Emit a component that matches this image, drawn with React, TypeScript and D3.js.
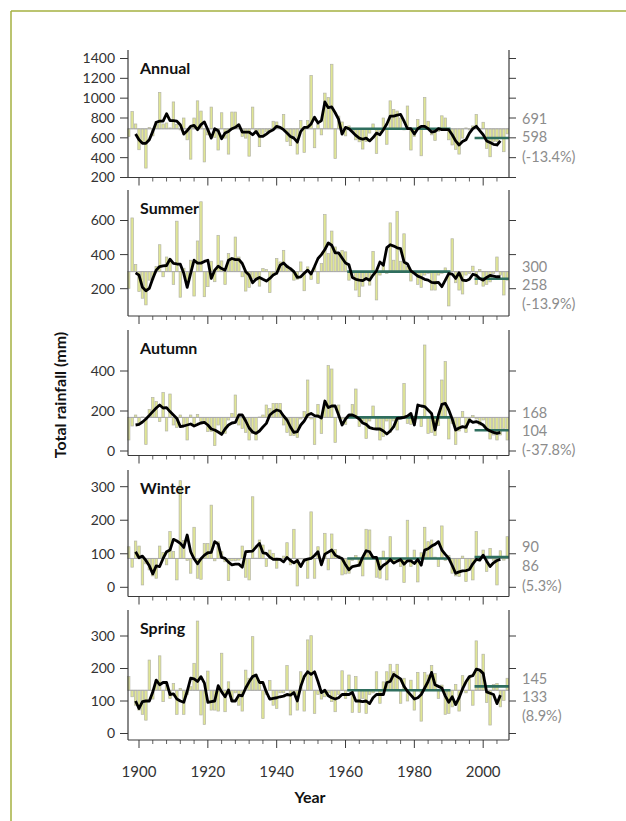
import React from "react";
import * as d3 from "d3";

// ---------- DATA ----------
const BAR_START_YEAR = 1897;
const LINE_START_YEAR = 1899;

const panelNames = ["Annual", "Summer", "Autumn", "Winter", "Spring"];

const annualBars = [615, 865, 740, 480, 560, 295, 705, 620, 765, 1058, 740, 750, 700, 962, 735, 680, 800, 580, 385, 800, 973, 870, 357, 630, 910, 603, 477, 853, 597, 436, 860, 860, 700, 614, 597, 415, 910, 648, 511, 630, 665, 665, 767, 760, 700, 836, 562, 521, 614, 436, 774, 453, 774, 1229, 500, 733, 630, 1051, 1007, 1342, 391, 819, 760, 620, 720, 665, 580, 560, 487, 562, 648, 740, 443, 660, 800, 535, 973, 887, 870, 800, 680, 921, 477, 614, 785, 419, 1007, 767, 630, 573, 665, 822, 800, 580, 528, 484, 436, 597, 700, 680, 720, 836, 690, 757, 494, 409, 562, 562, 597, 460, 640];
const annualLine = [638, 580, 545, 545, 580, 665, 757, 768, 768, 843, 774, 774, 768, 733, 638, 672, 716, 726, 682, 733, 760, 682, 597, 692, 672, 590, 648, 665, 692, 706, 733, 658, 658, 658, 631, 665, 614, 614, 638, 665, 682, 716, 706, 682, 648, 614, 597, 556, 665, 706, 706, 740, 808, 750, 774, 962, 904, 911, 853, 785, 638, 706, 692, 658, 624, 597, 586, 597, 569, 603, 648, 631, 682, 740, 819, 819, 829, 836, 768, 692, 692, 638, 692, 716, 716, 692, 658, 665, 692, 682, 682, 682, 631, 569, 528, 562, 580, 648, 692, 716, 672, 631, 569, 552, 535, 528, 569];

const summerBars = [202, 615, 342, 183, 144, 105, 250, 255, 330, 458, 270, 386, 367, 225, 596, 150, 320, 221, 367, 157, 480, 710, 153, 212, 361, 241, 513, 363, 225, 406, 380, 503, 386, 270, 186, 208, 260, 250, 215, 318, 312, 177, 280, 377, 357, 425, 338, 320, 250, 255, 357, 188, 328, 255, 332, 231, 347, 635, 406, 538, 445, 410, 425, 416, 250, 290, 192, 153, 215, 256, 221, 419, 134, 280, 353, 290, 586, 367, 654, 361, 522, 330, 245, 290, 225, 208, 280, 290, 192, 192, 280, 290, 322, 99, 493, 235, 192, 169, 280, 290, 332, 225, 313, 215, 225, 240, 290, 386, 280, 163, 250];
const summerLine = [293, 280, 208, 188, 202, 260, 309, 330, 334, 336, 373, 348, 345, 344, 290, 208, 290, 367, 350, 350, 360, 367, 260, 309, 332, 318, 309, 367, 377, 371, 371, 348, 300, 280, 235, 255, 266, 255, 245, 260, 280, 290, 338, 351, 330, 318, 300, 266, 270, 290, 309, 286, 330, 377, 400, 430, 468, 455, 410, 410, 380, 351, 340, 266, 255, 250, 247, 260, 250, 280, 305, 357, 338, 441, 458, 450, 440, 435, 357, 345, 305, 290, 274, 266, 255, 250, 237, 235, 237, 212, 250, 289, 285, 260, 293, 250, 247, 255, 285, 278, 260, 250, 266, 278, 274, 270, 270];

const autumnBars = [55, 125, 180, 140, 170, 33, 208, 268, 247, 147, 292, 100, 285, 130, 117, 180, 122, 55, 180, 130, 183, 147, 138, 97, 97, 27, 130, 88, 88, 155, 188, 280, 130, 113, 93, 55, 88, 55, 170, 180, 230, 213, 238, 238, 238, 130, 93, 77, 77, 67, 160, 197, 355, 160, 33, 233, 88, 230, 427, 410, 43, 230, 160, 133, 175, 233, 310, 122, 150, 63, 150, 225, 113, 55, 72, 150, 93, 150, 105, 160, 338, 138, 133, 175, 160, 122, 530, 88, 93, 77, 127, 355, 447, 60, 138, 33, 100, 197, 93, 150, 177, 160, 130, 155, 105, 60, 80, 55, 80, 113, 55];
const autumnLine = [130, 133, 145, 160, 178, 197, 215, 230, 215, 217, 197, 180, 163, 122, 125, 130, 135, 125, 133, 140, 143, 130, 110, 105, 95, 83, 110, 130, 140, 143, 180, 180, 150, 115, 95, 88, 100, 120, 138, 180, 195, 205, 200, 175, 155, 120, 93, 97, 130, 150, 180, 188, 177, 175, 165, 250, 217, 225, 225, 180, 130, 160, 180, 180, 172, 160, 140, 133, 117, 112, 110, 110, 100, 85, 100, 122, 163, 165, 168, 175, 188, 130, 230, 225, 222, 205, 188, 105, 180, 233, 238, 205, 160, 105, 115, 122, 118, 155, 143, 147, 140, 130, 110, 100, 93, 88, 93];

const winterBars = [121, 60, 138, 123, 7, 70, 52, 34, 27, 123, 104, 67, 166, 107, 22, 318, 140, 80, 42, 179, 27, 24, 131, 131, 245, 79, 136, 106, 76, 20, 79, 79, 81, 123, 30, 22, 270, 87, 141, 126, 62, 111, 101, 57, 80, 93, 133, 67, 173, 4, 85, 76, 27, 225, 27, 121, 85, 161, 52, 159, 113, 95, 37, 40, 42, 80, 95, 62, 34, 173, 171, 92, 30, 27, 108, 22, 151, 72, 80, 62, 14, 200, 62, 111, 16, 103, 179, 136, 141, 90, 62, 183, 80, 95, 42, 34, 32, 93, 17, 54, 22, 166, 82, 111, 47, 116, 80, 7, 109, 81, 151];
const winterLine = [106, 88, 93, 80, 64, 40, 64, 62, 86, 106, 111, 143, 138, 131, 119, 156, 106, 85, 70, 85, 96, 103, 104, 136, 129, 89, 86, 75, 67, 69, 69, 60, 106, 107, 108, 120, 131, 103, 101, 90, 83, 84, 83, 76, 89, 80, 73, 80, 62, 81, 84, 86, 95, 106, 67, 99, 105, 111, 96, 90, 86, 67, 52, 62, 64, 66, 90, 109, 106, 89, 89, 54, 66, 72, 83, 72, 78, 83, 69, 79, 79, 71, 83, 66, 111, 115, 123, 128, 136, 111, 98, 86, 65, 42, 46, 49, 50, 53, 70, 83, 81, 96, 78, 62, 73, 80, 83];

const springBars = [175, 113, 87, 72, 59, 41, 226, 106, 164, 239, 98, 154, 108, 154, 59, 139, 59, 120, 144, 216, 346, 57, 28, 192, 72, 72, 69, 247, 67, 159, 98, 125, 87, 69, 195, 170, 298, 182, 157, 46, 120, 163, 87, 77, 125, 125, 209, 57, 120, 72, 190, 69, 288, 301, 62, 120, 106, 113, 125, 98, 67, 120, 193, 108, 180, 65, 175, 65, 108, 62, 120, 125, 190, 93, 159, 190, 213, 190, 213, 93, 170, 100, 164, 72, 188, 38, 188, 180, 209, 185, 108, 149, 59, 62, 82, 151, 69, 178, 125, 175, 87, 285, 190, 244, 95, 26, 151, 154, 82, 102, 170];
const springLine = [100, 77, 98, 100, 100, 128, 164, 150, 157, 157, 120, 122, 106, 100, 96, 130, 170, 168, 160, 175, 155, 96, 98, 100, 147, 128, 113, 134, 100, 100, 118, 116, 140, 159, 175, 180, 157, 157, 128, 106, 108, 110, 113, 115, 120, 118, 126, 100, 145, 175, 190, 182, 190, 160, 126, 133, 116, 110, 106, 110, 120, 120, 120, 126, 100, 100, 98, 100, 92, 110, 120, 120, 120, 157, 160, 182, 175, 168, 145, 130, 118, 106, 110, 120, 140, 160, 188, 150, 145, 140, 115, 96, 113, 89, 110, 137, 159, 175, 178, 198, 195, 185, 128, 124, 120, 92, 118];

// 1961-1990 mean (bar baseline) and recent mean, per panel
const baseMeans = [691, 300, 168, 86, 133];
const recentMeans = [598, 258, 104, 90, 145];
const changeLabels = ["(-13.4%)", "(-13.9%)", "(-37.8%)", "(5.3%)", "(8.9%)"];
const BASE_PERIOD = [1961, 1990];
const RECENT_PERIOD = [1998, 2007];

const yTicks = [
  [200, 400, 600, 800, 1000, 1200, 1400],
  [200, 400, 600],
  [0, 200, 400],
  [0, 100, 200, 300],
  [0, 100, 200, 300],
];
const xTickMajor = [1900, 1920, 1940, 1960, 1980, 2000];

const allBars = [annualBars, summerBars, autumnBars, winterBars, springBars];
const allLines = [annualLine, summerLine, autumnLine, winterLine, springLine];

// ---------- LAYOUT ----------
const W = 626;
const H = 821;
const X_LEFT = 128;
const X_RIGHT = 509;
const X_DOMAIN = [1896.8, 2007.5];

const layout = [
  { top: 50, bottom: 177.5, cal: [200, 177.5, 1400, 58.5], labelY: [119, 137, 157] },
  { top: 190, bottom: 316, cal: [200, 288.7, 600, 220.5], labelY: [267, 285, 304] },
  { top: 330, bottom: 455.5, cal: [0, 451, 400, 371], labelY: [413, 431, 450] },
  { top: 470, bottom: 596.5, cal: [0, 587.3, 300, 486.7], labelY: [547, 566, 586] },
  { top: 610, bottom: 740, cal: [0, 733.5, 300, 636], labelY: [679, 697, 716] },
];

const FONT = "Lato, 'Open Sans', 'DejaVu Sans', sans-serif";
const AXIS = "#3a3a3a";
const BAR_FILL = "#e0e695";
const BAR_STROKE = "#b5b5a8";
const TEAL = "#2f6e5e";
const BORDER = "#a5b040";

export default function App() {
  const x = d3.scaleLinear().domain(X_DOMAIN).range([X_LEFT, X_RIGHT]);
  const minorTicks = d3.range(1900, 2008, 4).filter((t) => !xTickMajor.includes(t));
  const bw = (x(1901) - x(1900)) * 0.72;

  return (
    <div style={{ position: "absolute", left: 0, top: 0 }}>
      <svg width={W} height={H} style={{ display: "block", background: "#fff" }} fontFamily={FONT}>
        <line x1={11} y1={11} x2={W} y2={11} stroke={BORDER} strokeWidth={1.5} />
        <line x1={11} y1={11} x2={11} y2={H} stroke={BORDER} strokeWidth={1.5} />

        {panelNames.map((name, i) => {
          const L = layout[i];
          const y = d3.scaleLinear().domain([L.cal[0], L.cal[2]]).range([L.cal[1], L.cal[3]]);
          const base = baseMeans[i];
          const bars = allBars[i];
          const lineData = allLines[i].map((v, k) => [LINE_START_YEAR + k, v] as [number, number]);
          const lineGen = d3
            .line<[number, number]>()
            .x((d) => x(d[0]))
            .y((d) => y(d[1]));
          const hi = Math.max(base, recentMeans[i]);
          const lo = Math.min(base, recentMeans[i]);
          const labels = [String(hi), String(lo), changeLabels[i]];
          return (
            <g key={name}>
              {bars.map((v, k) => {
                const yr = BAR_START_YEAR + k;
                const y0 = y(base);
                const y1 = y(v);
                return (
                  <rect
                    key={yr}
                    x={x(yr) - bw / 2}
                    y={Math.min(y0, y1)}
                    width={bw}
                    height={Math.max(0.5, Math.abs(y1 - y0))}
                    fill={BAR_FILL}
                    stroke={BAR_STROKE}
                    strokeWidth={0.7}
                  />
                );
              })}
              <line x1={X_LEFT} x2={X_RIGHT} y1={y(base)} y2={y(base)} stroke="#a8a8a8" strokeWidth={1} />
              <line
                x1={x(BASE_PERIOD[0] - 0.5)}
                x2={x(BASE_PERIOD[1] + 0.5)}
                y1={y(base)}
                y2={y(base)}
                stroke={TEAL}
                strokeWidth={2.6}
              />
              <line
                x1={x(RECENT_PERIOD[0] - 0.5)}
                x2={x(RECENT_PERIOD[1] + 0.5)}
                y1={y(recentMeans[i])}
                y2={y(recentMeans[i])}
                stroke={TEAL}
                strokeWidth={2.6}
              />
              <path d={lineGen(lineData) || ""} fill="none" stroke="#000" strokeWidth={2.8} strokeLinejoin="round" />

              <line x1={X_LEFT} x2={X_LEFT} y1={L.top} y2={L.bottom} stroke={AXIS} strokeWidth={1.2} />
              <line x1={X_RIGHT} x2={X_RIGHT} y1={L.top} y2={L.bottom} stroke={AXIS} strokeWidth={1.2} />
              <line x1={X_LEFT} x2={X_RIGHT} y1={L.bottom} y2={L.bottom} stroke={AXIS} strokeWidth={1.2} />
              {yTicks[i].map((t) => (
                <g key={t}>
                  <line x1={X_LEFT - 8} x2={X_LEFT} y1={y(t)} y2={y(t)} stroke={AXIS} strokeWidth={1} />
                  <line x1={X_RIGHT} x2={X_RIGHT + 7} y1={y(t)} y2={y(t)} stroke={AXIS} strokeWidth={1} />
                  <text x={X_LEFT - 13} y={y(t)} dy="0.35em" textAnchor="end" fontSize={14} fill="#333">
                    {t}
                  </text>
                </g>
              ))}
              {xTickMajor.map((t) => (
                <line key={t} x1={x(t)} x2={x(t)} y1={L.bottom} y2={L.bottom + 8} stroke={AXIS} strokeWidth={1} />
              ))}
              {minorTicks.map((t) => (
                <line key={t} x1={x(t)} x2={x(t)} y1={L.bottom} y2={L.bottom + 4} stroke={AXIS} strokeWidth={0.8} />
              ))}
              <text x={X_LEFT + 12} y={L.top + 24} fontSize={16} fontWeight={700} fill="#111">
                {name}
              </text>
              {labels.map((s, j) => (
                <text key={j} x={522} y={L.labelY[j]} dy="0.35em" fontSize={14.5} fill="#8c8c8c">
                  {s}
                </text>
              ))}
            </g>
          );
        })}

        {xTickMajor.map((t) => (
          <text key={t} x={x(t)} y={777} textAnchor="middle" fontSize={15} fill="#333">
            {t}
          </text>
        ))}
        <text x={310} y={803} textAnchor="middle" fontSize={16} fontWeight={700} fill="#111">
          Year
        </text>
        <text
          transform={`translate(66, ${(layout[0].top + layout[4].bottom) / 2}) rotate(-90)`}
          textAnchor="middle"
          fontSize={16}
          fontWeight={700}
          fill="#111"
        >
          Total rainfall (mm)
        </text>
      </svg>
    </div>
  );
}
